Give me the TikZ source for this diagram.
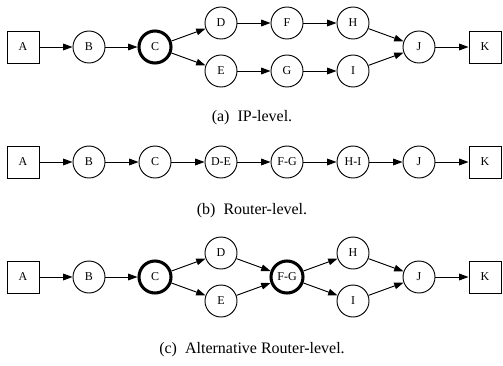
\documentclass[tikz,border=0pt]{standalone}
\usepackage{fontspec}
\setmainfont{Liberation Serif}
\usetikzlibrary{positioning,arrows.meta}

\begin{document}
\begin{tikzpicture}[x=1pt, y=1pt, on grid, node distance=18pt and 49.5pt,
    hop/.style={circle, draw, line width=0.7pt, minimum size=24pt, inner sep=0pt, font=\fontsize{9}{10}\selectfont},
    cut/.style={hop, line width=2.3pt},
    peer/.style={rectangle, draw, line width=0.7pt, minimum size=24pt, inner sep=0pt, font=\fontsize{9}{10}\selectfont},
    link/.style={-{Triangle[length=7pt, width=5pt]}, line width=0.7pt},
    caption/.style={font=\fontsize{12}{14}\selectfont}]

  \useasboundingbox (0,0) rectangle (377.25,-273.75);

  % (a) IP-level
  \node[peer] (A1) at (17.25,-35.25) {A};
  \node[hop, right=of A1] (B1) {B};
  \node[cut, right=of B1] (C1) {C};
  \node[hop, above right=of C1] (D1) {D};
  \node[hop, below right=of C1] (E1) {E};
  \node[hop, right=of D1] (F1) {F};
  \node[hop, right=of E1] (G1) {G};
  \node[hop, right=of F1] (H1) {H};
  \node[hop, right=of G1] (I1) {I};
  \node[hop, below right=of H1] (J1) {J};
  \node[peer, right=of J1] (K1) {K};
  \node[caption] (capA) at (189,-88.5) {(a)\ \ IP-level.};

  \foreach \u/\v in {A1/B1, B1/C1, C1/D1, C1/E1, D1/F1, E1/G1, F1/H1, G1/I1, H1/J1, I1/J1, J1/K1}
    \draw[link] (\u) -- (\v);

  % (b) Router-level
  \node[peer] (A2) at (17.25,-121.5) {A};
  \node[hop, right=of A2] (B2) {B};
  \node[hop, right=of B2] (C2) {C};
  \node[hop, right=of C2] (DE2) {D-E};
  \node[hop, right=of DE2] (FG2) {F-G};
  \node[hop, right=of FG2] (HI2) {H-I};
  \node[hop, right=of HI2] (J2) {J};
  \node[peer, right=of J2] (K2) {K};
  \node[caption] (capB) at (189,-158.25) {(b)\ \ Router-level.};

  \foreach \u/\v in {A2/B2, B2/C2, C2/DE2, DE2/FG2, FG2/HI2, HI2/J2, J2/K2}
    \draw[link] (\u) -- (\v);

  % (c) Alternative Router-level
  \node[peer] (A3) at (17.25,-207.75) {A};
  \node[hop, right=of A3] (B3) {B};
  \node[cut, right=of B3] (C3) {C};
  \node[hop, above right=of C3] (D3) {D};
  \node[hop, below right=of C3] (E3) {E};
  \node[cut, below right=of D3] (FG3) {F-G};
  \node[hop, above right=of FG3] (H3) {H};
  \node[hop, below right=of FG3] (I3) {I};
  \node[hop, below right=of H3] (J3) {J};
  \node[peer, right=of J3] (K3) {K};
  \node[caption] (capC) at (189,-262.5) {(c)\ \ Alternative Router-level.};

  \foreach \u/\v in {A3/B3, B3/C3, C3/D3, C3/E3, D3/FG3, E3/FG3, FG3/H3, FG3/I3, H3/J3, I3/J3, J3/K3}
    \draw[link] (\u) -- (\v);

\end{tikzpicture}
\end{document}
